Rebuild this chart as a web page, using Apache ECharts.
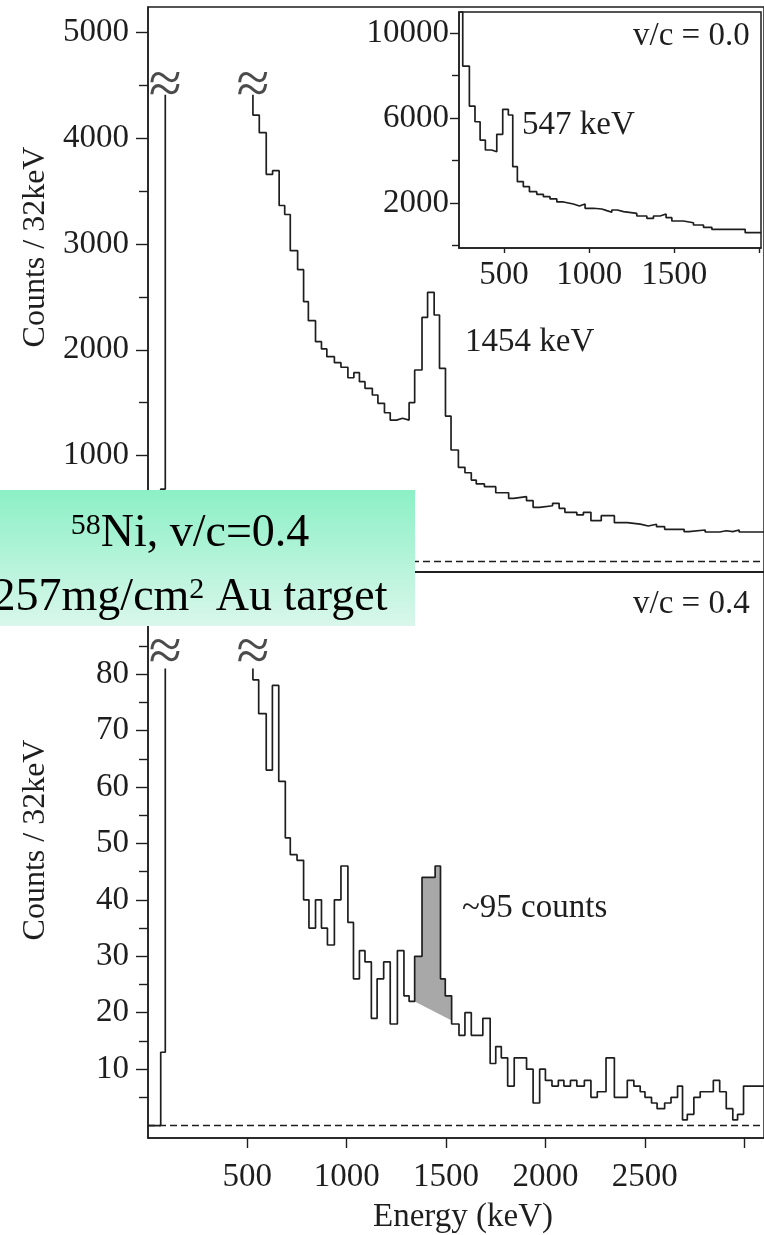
<!DOCTYPE html>
<html>
<head>
<meta charset="utf-8">
<script src="https://cdn.jsdelivr.net/npm/echarts@6/dist/echarts.min.js"></script>
<style>
  html, body { margin: 0; padding: 0; background: #ffffff; }
  #chart { width: 764px; height: 1235px; }
</style>
</head>
<body>
<div id="chart"></div>
<script>
// ---------------- spectra (bin edges in keV, counts per 32 keV) ----------------

// v/c = 0.0, inset spectrum
const insetEdges = [241, 257, 296, 329, 359, 390, 427, 457, 492, 525, 551, 578, 613, 649, 692, 731, 770, 810, 849, 907,
  943, 976, 1025, 1074, 1104, 1133, 1166, 1202, 1280, 1339, 1378, 1417, 1452, 1486, 1554, 1613, 1672, 1721, 1917, 2011];
const insetCounts = [11000, 8445, 6562, 5824, 4962, 4494, 4414, 5233, 6409, 6141, 3708, 3002, 2767, 2532, 2409, 2296, 2188, 2047, 1953,
  1859, 1953, 1750, 1717, 1637, 1562, 1670, 1590, 1510, 1386, 1277, 1386, 1480, 1306, 1150, 1070, 962, 853, 758, 600];

// upper panel: low-energy part (spike goes off scale at the last edge)
const topLowEdges = [0, 64, 87];
const topLowCounts = [0, 684];
// upper panel: from the break onwards
const topEdges = [528, 560, 595, 627, 660, 688, 716, 753, 783, 807, 843, 873, 900, 938, 971, 1006, 1036, 1064, 1092, 1129,
  1157, 1190, 1219, 1251, 1281, 1314, 1342, 1379, 1407, 1440, 1467, 1497, 1525, 1562, 1595, 1627, 1652, 1693, 1750, 1815,
  1840, 1905, 1938, 1971, 2036, 2069, 2098, 2158, 2191, 2229, 2281, 2347, 2412, 2477, 2518, 2559, 2600, 2698, 2722, 2804,
  2877, 2910, 2943, 2975, 3100];
const topCounts = [4219, 4052, 3659, 3693, 3364, 3279, 2937, 2757, 2455, 2275, 2077, 2008, 1935, 1878, 1835, 1736, 1784, 1699,
  1636, 1573, 1494, 1405, 1336, 1353, 1336, 1500, 1809, 2307, 2543, 2329, 1825, 1374, 1053, 889, 838, 769, 732, 706, 649, 596,
  612, 574, 511, 526, 549, 502, 464, 439, 464, 385, 432, 366, 353, 335, 351, 328, 303, 281, 297, 278, 290, 281, 297, 278];
const TOP_CUT = 4410;          // level where off-scale bins are broken

// lower panel (v/c = 0.4)
const lowLowEdges = [0, 64, 87];
const lowLowCounts = [0, 13];
const lowEdges = [528, 557, 595, 626, 658, 691, 716, 750, 783, 810, 843, 873, 903, 938, 971, 1006, 1034, 1064, 1092, 1124,
  1153, 1186, 1219, 1255, 1288, 1314, 1342, 1379, 1412, 1445, 1472, 1496, 1528, 1565, 1595, 1627, 1685, 1722, 1750, 1778,
  1810, 1843, 1873, 1905, 1938, 1971, 2000, 2033, 2065, 2093, 2126, 2158, 2196, 2229, 2261, 2305, 2347, 2412, 2445, 2477,
  2501, 2534, 2562, 2600, 2632, 2665, 2690, 2714, 2747, 2779, 2820, 2845, 2877, 2910, 2943, 2967, 2997, 3100];
const lowCounts = [79, 73, 63, 78, 61, 51, 48, 47, 40, 35, 40, 35, 32, 40, 46, 36, 26, 31, 29, 19, 26, 29, 18, 31, 23, 22,
  30, 44, 44, 46, 26, 23, 18, 16, 20, 16, 19, 11, 14, 12, 7, 12, 12, 10, 4, 10, 8, 7, 8, 7, 8, 7, 8, 5, 6, 12, 5, 8, 7, 6,
  5, 4, 3, 4, 5, 7, 1, 2, 5, 6, 6, 8, 6, 3, 1, 2, 7];
const LOW_CUT = 81;

// 1454 keV peak window and its linear background
const peakWindow = [1342, 1528];
const peakBackground = [22, 18.6];

// axis ticks and labels
const energyTicks = [500, 1000, 1500, 2000, 2500, 3000];
const energyLabels = [500, 1000, 1500, 2000, 2500];
const topTicks = [1000, 2000, 3000, 4000, 5000];
const topMinorTicks = [500, 1500, 2500, 3500, 4500];
const lowTicks = [10, 20, 30, 40, 50, 60, 70, 80, 90];
const lowMinorTicks = [5, 15, 25, 35, 45, 55, 65, 75, 85, 95];
const insetTicks = [2000, 6000, 10000];
const insetMinorTicks = [0, 4000, 8000];
const insetEnergyTicks = [500, 1000, 1500, 2000];
const insetEnergyLabels = [500, 1000, 1500];

// ---------------- drawing ----------------
const SERIF = '"Liberation Serif", "Times New Roman", serif';
const INK = '#1e1e1e';
const LINE_W = 1.7;
const FS = 33;

// histogram outline: one point per bin (left edge) plus the closing right edge
function stepPoints(edges, counts) {
  const pts = counts.map((c, i) => [edges[i], c]);
  pts.push([edges[edges.length - 1], counts[counts.length - 1]]);
  return pts;
}

const topLowPts = stepPoints(topLowEdges, topLowCounts).concat([[topLowEdges[topLowEdges.length - 1], TOP_CUT]]);
const topPts = [[topEdges[0], TOP_CUT]].concat(stepPoints(topEdges, topCounts));
const lowLowPts = stepPoints(lowLowEdges, lowLowCounts).concat([[lowLowEdges[lowLowEdges.length - 1], LOW_CUT]]);
const lowPts = [[lowEdges[0], LOW_CUT]].concat(stepPoints(lowEdges, lowCounts));
const insetPts = stepPoints(insetEdges, insetCounts);

const axisLine = { show: true, onZero: false, lineStyle: { color: INK, width: 1.5 } };
const tickStyle = { color: INK, width: 1.4 };
const plain = (v) => String(v);
const labelFont = { fontFamily: SERIF, fontSize: FS, color: INK, formatter: plain };

function hist(data, gi, extra) {
  return Object.assign({
    type: 'line', xAxisIndex: gi, yAxisIndex: gi === 2 ? 4 : gi * 2, data: data,
    step: 'end', symbol: 'none', silent: true, clip: true, z: 3,
    lineStyle: { color: INK, width: LINE_W }
  }, extra || {});
}

function zeroLine() {
  return {
    silent: true, symbol: 'none', label: { show: false }, animation: false,
    lineStyle: { color: INK, width: 1.3, type: [7, 4] },
    data: [{ yAxis: 0 }]
  };
}

function breakMarks(gi, yi, pts, dy) {
  return {
    type: 'scatter', xAxisIndex: gi, yAxisIndex: yi, data: pts, silent: true, z: 4,
    symbol: 'circle', symbolSize: 1, itemStyle: { color: 'rgba(0,0,0,0)' },
    label: {
      show: true, position: 'inside', formatter: '\u2248', offset: [0, dy],
      fontFamily: SERIF, fontSize: 60, color: INK
    }
  };
}

function yAxisPair(gi, min, max, ticks, minor, tickLen, minorLen, margin) {
  return [
    {
      gridIndex: gi, type: 'value', position: 'left', min: min, max: max,
      axisLine: axisLine, splitLine: { show: false },
      axisTick: { show: true, customValues: ticks, length: tickLen, lineStyle: tickStyle },
      axisLabel: Object.assign({ customValues: ticks, margin: margin }, labelFont)
    },
    {
      gridIndex: gi, type: 'value', position: 'left', min: min, max: max,
      axisLine: { show: false }, splitLine: { show: false }, axisLabel: { show: false },
      axisTick: { show: true, customValues: minor, length: minorLen, lineStyle: tickStyle }
    }
  ];
}

const X_MAX = 3100;
const frame = { show: true, borderColor: INK, borderWidth: 1.5, backgroundColor: 'rgba(0,0,0,0)' };

const option = {
  animation: false,
  backgroundColor: '#ffffff',
  grid: [
    Object.assign({ left: 148, top: 7, width: 632, height: 565 }, frame),
    Object.assign({ left: 148, top: 572, width: 632, height: 566 }, frame),
    Object.assign({ left: 459, top: 12, width: 302, height: 236 }, frame)
  ],
  xAxis: [
    {
      gridIndex: 0, type: 'value', min: 0, max: X_MAX, axisLine: axisLine,
      axisTick: { show: false }, axisLabel: { show: false }, splitLine: { show: false }
    },
    {
      gridIndex: 1, type: 'value', min: 0, max: X_MAX, axisLine: axisLine, splitLine: { show: false },
      axisTick: { show: true, customValues: energyTicks, length: 10, lineStyle: tickStyle },
      axisLabel: Object.assign({ customValues: energyLabels, margin: 23 }, labelFont)
    },
    {
      gridIndex: 2, type: 'value', min: 235, max: 2010, axisLine: axisLine, splitLine: { show: false },
      axisTick: { show: true, customValues: insetEnergyTicks, length: 5, lineStyle: tickStyle },
      axisLabel: Object.assign({ customValues: insetEnergyLabels, margin: 11 }, labelFont)
    }
  ],
  yAxis: []
    .concat(yAxisPair(0, -100, 5240, topTicks, topMinorTicks, 12, 9, 19))
    .concat(yAxisPair(1, -2.2, 98.1, lowTicks, lowMinorTicks, 12, 9, 19))
    .concat(yAxisPair(2, -120, 10990, insetTicks, insetMinorTicks, 9, 7, 10)),
  series: [
    // upper panel
    hist(topLowPts, 0, { markLine: zeroLine() }),
    hist(topPts, 0),
    breakMarks(0, 0, [topLowPts[topLowPts.length - 1], topPts[0]], -8),
    // lower panel: shaded 1454 keV peak above its background
    {
      type: 'custom', xAxisIndex: 1, yAxisIndex: 2, silent: true, z: 2,
      data: [[peakWindow[0], peakBackground[0]]],
      renderItem: function (params, api) {
        const pts = [];
        for (let i = 0; i < lowCounts.length; i++) {
          if (lowEdges[i] >= peakWindow[0] && lowEdges[i + 1] <= peakWindow[1]) {
            pts.push(api.coord([lowEdges[i], lowCounts[i]]));
            pts.push(api.coord([lowEdges[i + 1], lowCounts[i]]));
          }
        }
        pts.push(api.coord([peakWindow[1], peakBackground[1]]));
        pts.push(api.coord([peakWindow[0], peakBackground[0]]));
        return { type: 'polygon', shape: { points: pts }, style: { fill: '#a8a8a8' } };
      }
    },
    hist(lowLowPts, 1, { markLine: zeroLine() }),
    hist(lowPts, 1),
    breakMarks(1, 2, [lowLowPts[lowLowPts.length - 1], lowPts[0]], -14),
    // inset
    hist(insetPts, 2)
  ],
  graphic: [
    // panel annotations
    { type: 'text', x: 633, y: 36, z: 50, style: { text: 'v/c = 0.0', fontFamily: SERIF, fontSize: FS, fill: INK, align: 'left', verticalAlign: 'middle' } },
    { type: 'text', x: 522, y: 125, z: 50, style: { text: '547 keV', fontFamily: SERIF, fontSize: FS, fill: INK, align: 'left', verticalAlign: 'middle' } },
    { type: 'text', x: 465, y: 342, z: 50, style: { text: '1454 keV', fontFamily: SERIF, fontSize: FS, fill: INK, align: 'left', verticalAlign: 'middle' } },
    { type: 'text', x: 633, y: 604, z: 50, style: { text: 'v/c = 0.4', fontFamily: SERIF, fontSize: FS, fill: INK, align: 'left', verticalAlign: 'middle' } },
    { type: 'text', x: 462, y: 908, z: 50, style: { text: '~95 counts', fontFamily: SERIF, fontSize: FS, fill: INK, align: 'left', verticalAlign: 'middle' } },
    // axis titles
    { type: 'text', x: 463, y: 1217, z: 50, style: { text: 'Energy (keV)', fontFamily: SERIF, fontSize: FS, fill: INK, align: 'center', verticalAlign: 'middle' } },
    { type: 'text', x: 36, y: 247, rotation: Math.PI / 2, z: 50, style: { text: 'Counts / 32keV', fontFamily: SERIF, fontSize: 32, fill: INK, align: 'center', verticalAlign: 'middle' } },
    { type: 'text', x: 36, y: 840, rotation: Math.PI / 2, z: 50, style: { text: 'Counts / 32keV', fontFamily: SERIF, fontSize: 32, fill: INK, align: 'center', verticalAlign: 'middle' } },
    // experiment caption box
    {
      type: 'rect', z: 100, shape: { x: 0, y: 490, width: 415, height: 136 },
      style: {
        fill: new echarts.graphic.LinearGradient(0, 0, 0, 1, [
          { offset: 0, color: '#8cf0c6' },
          { offset: 1, color: '#d9f7eb' }
        ])
      }
    },
    {
      type: 'text', x: 190, y: 534, z: 101,
      style: {
        text: '{s|58}{m|Ni, v/c=0.4}', align: 'center', verticalAlign: 'middle',
        rich: {
          s: { fontFamily: SERIF, fontSize: 30, lineHeight: 18, verticalAlign: 'top', fill: '#000' },
          m: { fontFamily: SERIF, fontSize: 46, lineHeight: 46, fill: '#000' }
        }
      }
    },
    {
      type: 'text', x: 190, y: 598, z: 101,
      style: {
        text: '{m|257mg/cm}{s|2}{m| Au target}', align: 'center', verticalAlign: 'middle',
        rich: {
          s: { fontFamily: SERIF, fontSize: 30, lineHeight: 18, verticalAlign: 'top', fill: '#000' },
          m: { fontFamily: SERIF, fontSize: 46, lineHeight: 46, fill: '#000' }
        }
      }
    }
  ]
};

const chart = echarts.init(document.getElementById('chart'), null, { renderer: 'canvas', devicePixelRatio: 1 });
chart.setOption(option);
</script>
</body>
</html>
